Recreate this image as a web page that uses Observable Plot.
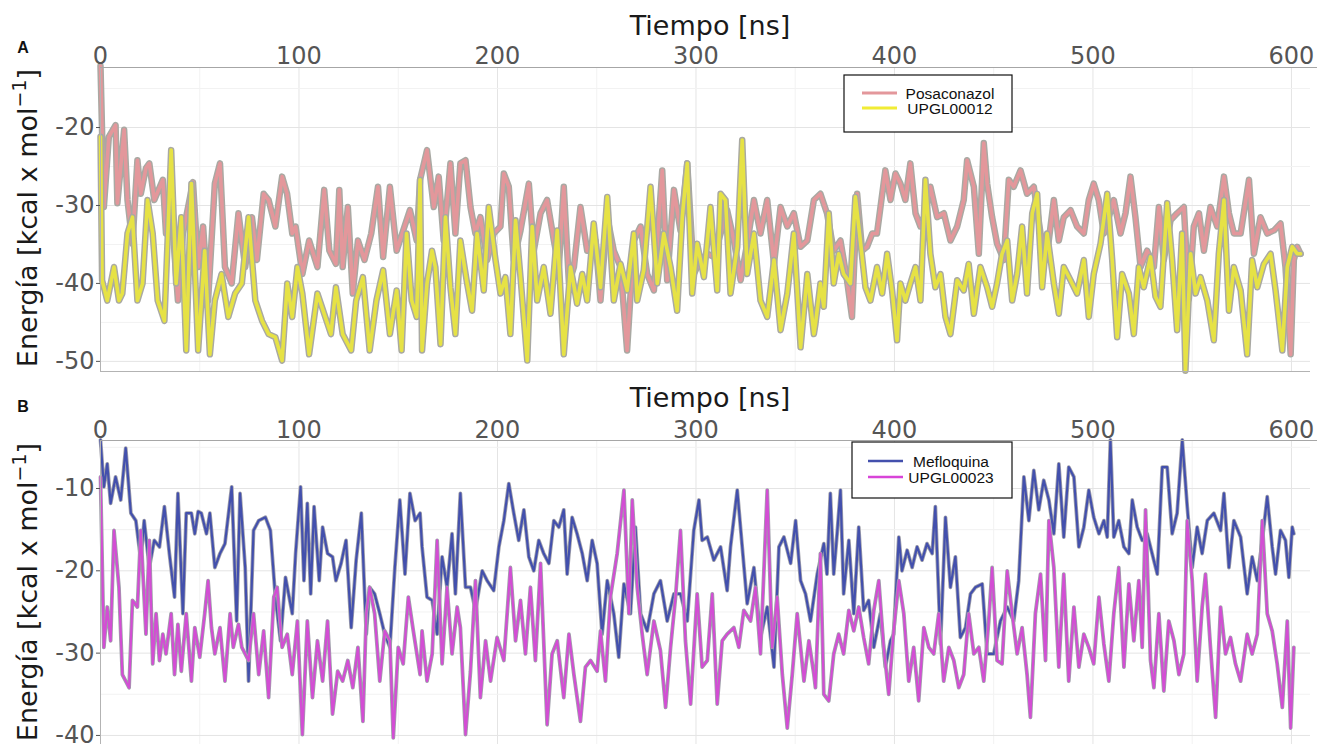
<!DOCTYPE html>
<html><head><meta charset="utf-8">
<script src="https://cdn.jsdelivr.net/npm/d3@7"></script>
<script src="https://cdn.jsdelivr.net/npm/@observablehq/plot@0.6"></script>
<style>
body{margin:0;background:#fff;}
#chart{width:1317px;height:744px;position:relative;overflow:hidden;background:#fff;}
#chart svg{display:block;}
</style></head><body><div id="chart"></div>
<script>
// ---------- data (time [ns], energy [kcal/mol]) ----------
const xTicks = [0, 100, 200, 300, 400, 500, 600];
const xMinor = [50, 150, 250, 350, 450, 550];
const yTicksA = [-50, -40, -30, -20];
const yMinorA = [-45, -35, -25, -15];
const yTicksB = [-40, -30, -20, -10];
const yMinorB = [-35, -25, -15, -5];
const namesA = ["Posaconazol", "UPGL00012"];
const namesB = ["Mefloquina", "UPGL00023"];

const posaconazol = [[0,-12.1],[1.7,-30.2],[4.2,-21.2],[7.6,-19.7],[8.5,-29.7],[11.9,-20.3],[13.6,-29.3],[16.1,-34.9],[18.6,-24.2],[20.3,-28.5],[22.9,-25.2],[24.6,-24.6],[27.1,-29.3],[31.4,-26.7],[33,-33.6],[35.6,-30.2],[39,-42.2],[41.5,-33.6],[46.6,-27],[49.2,-37.9],[51.7,-32.7],[54.2,-42.2],[57.6,-27.2],[60.2,-24.6],[62.7,-37.9],[66.1,-40],[69.5,-31],[72.9,-37.9],[76.3,-31.5],[78.8,-37],[82.2,-28.5],[84.7,-29.3],[88.1,-32.7],[91.5,-26.3],[94,-28.5],[96.6,-33.6],[98.3,-32.7],[101.7,-38.8],[105.1,-34.5],[109.3,-37.9],[112.7,-28],[115.3,-35.8],[118.6,-37.5],[120.3,-28],[122,-37.9],[124.6,-30.2],[127.1,-41.3],[129.7,-34.5],[133,-37],[136.4,-33.6],[139.8,-27.6],[142.4,-36.6],[145.8,-27.6],[149.2,-35.8],[152.5,-33.2],[155.9,-30.6],[159.3,-34.5],[161,-26.7],
[164.5,-22.9],[167.9,-30.2],[170.4,-26.3],[172.9,-34.5],[176.3,-24.6],[178.8,-33.6],[181.3,-24.6],[183.9,-24.2],[186.4,-30.2],[188.9,-33.6],[191.4,-31.5],[194.8,-37],[198.1,-33.6],[201.5,-32.7],[203.2,-25.9],[205.7,-27.6],[208.2,-37],[211.6,-33.2],[215.8,-27.2],[218.3,-35.8],[221.7,-31],[225,-29.3],[228.4,-34.5],[230.9,-37.9],[233.4,-27.6],[236,-40],[238.5,-37.9],[241.8,-30.2],[245.2,-35.8],[249.4,-34.5],[251.9,-42.2],[255.3,-31.5],[258.6,-35.8],[262,-37.9],[265.3,-48.6],[268.7,-34.5],[272.1,-32.7],[275.4,-38.8],[278.8,-40.9],[283,-25.5],[285.5,-39.6],[288.9,-28],[292.2,-33.2],[295.6,-24.6],[298.9,-38.8],[302.3,-37],[305.7,-36.2],[309,-36.6],[312.4,-33.6],[315.7,-30.6],[319.1,-34.5],[322.5,-39.6],[325.8,-34.9],[329.2,-29.3],[332.5,-33.6],[335.9,-29.3],[339.3,-37.5],[342.6,-30.2],[346,-32.7],[349.3,-31],[352.7,-35.3],[356.1,-34.5],[359.4,-29.3],
[362.7,-28.5],[366,-31],[369.4,-35.8],[372.8,-34.5],[376.1,-39.6],[378.6,-44.3],[381.2,-28.5],[383.7,-35.8],[386.2,-35.3],[388.8,-33.6],[391.2,-33.6],[395.4,-25.5],[398,-29.3],[400.5,-25.9],[403,-27.2],[405.5,-29.3],[408,-24.6],[410.6,-31],[413.1,-32.7],[415.6,-31],[418.1,-27.6],[421.5,-31.5],[424.9,-31],[428.2,-34.5],[431.6,-32.7],[434.9,-29.3],[436.6,-24.2],[440,-27.6],[442.5,-36.2],[445,-22],[446.7,-27.2],[449.2,-31.5],[451.7,-34.9],[455.1,-37],[457.6,-26.7],[460.1,-27.6],[463.5,-25.5],[466.8,-28.5],[470.2,-27.6],[473.6,-33.6],[476.9,-36.2],[480.3,-29.3],[482.8,-34.5],[485.3,-31.5],[488.7,-30.6],[492,-32.7],[495.4,-33.6],[497.9,-29.3],[500.4,-27.2],[502.9,-29.3],[505.5,-33.6],[508,-31.5],[510.5,-29.3],[513.9,-33.6],[516.4,-31],[518.9,-26.3],[521.4,-31.5],[524,-37.9],[527.3,-35.8],[530.7,-37.9],[533.2,-30.2],[535.7,-37],[539.1,-31.9],[542.4,-31],[545.8,-30.2],[548.3,-42],[550.8,-32.7],[553.4,-31],[555.9,-35.8],[559.2,-30.2],[562.6,-32.7],[566,-26.3],[568.5,-31],[571,-33.6],[574.4,-33.6],[578.6,-26.7],[581.1,-36.2],[584.4,-31.5],[587.8,-33.6],[591.2,-33.2],[594.5,-32.3],[597,-37.9],[599.6,-49.1],[601.2,-37],[602.9,-35.3],[604.6,-36.2]];

const upgl00012 = [[0,-21.2],[0.8,-39.6],[3.4,-42.2],[6.8,-37.9],[9.3,-42.2],[11,-41.3],[13.6,-33.6],[16.1,-31.5],[18.6,-42.2],[21.2,-40],[23.7,-29.3],[26.3,-33.6],[28.8,-42.2],[32.2,-44.8],[35.6,-22.9],[38.1,-40],[40.7,-31.5],[43.2,-48.6],[45.8,-27.2],[49.2,-48.6],[52.5,-35.8],[55.1,-49.1],[57.6,-42.2],[61,-38.8],[64.4,-44.3],[67.8,-41.3],[71.2,-40],[74.6,-31.5],[78,-42.2],[81.4,-44.8],[84.7,-46.5],[88.1,-46.9],[91.5,-49.9],[94.1,-40],[96.6,-44.3],[99.2,-37.9],[101.7,-41.3],[105.1,-49.1],[109.3,-41.3],[112.7,-43.9],[116.1,-46.5],[118.6,-40.5],[122,-46.5],[126.3,-48.6],[128.8,-42.2],[132.2,-39.2],[135.6,-48.6],[139,-42.2],[142.4,-38.3],[145.8,-46.5],[149.2,-40.9],[151.7,-48.6],[154.2,-33.6],[156.8,-42.2],[159.3,-44.3],[161,-26.7],
[162,-48.6],[164.5,-40],[167,-35.8],[168.7,-37.9],[171.3,-47.8],[173.8,-31.5],[176.3,-40.5],[178.8,-46.5],[181.3,-34.5],[184.7,-40],[187.2,-43.5],[189.7,-33.6],[193.1,-40.9],[195.6,-30.2],[199,-37],[201.5,-41.3],[204,-39.2],[206.5,-46.5],[209.1,-31.9],[211.6,-39.2],[215,-49.9],[217.5,-32.7],[220,-42.2],[223.3,-37.9],[226.7,-43.9],[230.1,-33.2],[233.4,-49.1],[236.8,-37.9],[240.1,-42.6],[242.7,-38.8],[245.2,-42.2],[248.5,-32.3],[251.9,-40.5],[255.3,-28.9],[258.6,-42.2],[262,-37.5],[265.3,-40.9],[268.7,-33.6],[270.4,-42.2],[273.7,-38.3],[277.1,-27.6],[280.5,-40],[283.8,-33.6],[287.2,-37.9],[290.5,-43.5],[293.1,-31.5],[295.6,-24.6],[298.1,-41.3],[300.6,-34.9],[304,-39.2],[307.3,-30.2],[310.7,-40.9],[312.4,-28.5],[314.9,-29.3],[317.4,-41.3],[320.8,-35.3],[323.3,-21.6],[325.8,-38.8],[329.2,-33.6],[332.5,-42.2],[335.9,-44.3],[339.3,-37],[342.6,-46],[346,-41.3],[349.3,-33.6],[352.7,-48.2],[356.1,-38.8],[359.4,-46.5],
[360.2,-45.2],[362.7,-40],[364.4,-43],[366.9,-31],[369.4,-40],[371.9,-36.2],[374.4,-38.8],[377.8,-40],[380.3,-28.9],[382.8,-34.5],[385.4,-40.5],[387.9,-42.2],[391.2,-37.9],[393.8,-41.3],[396.3,-36.2],[398.8,-40.9],[401.3,-47.3],[403,-40],[405.5,-42.2],[408,-40],[410.6,-37.9],[413.1,-42.2],[415.6,-26.7],[418.1,-36.2],[420.6,-40.5],[423.2,-38.8],[425.7,-44.3],[428.2,-46.5],[431.6,-39.6],[434.9,-40.9],[437.4,-37.5],[440,-43.9],[443.3,-37.9],[446.7,-40.5],[449.2,-43],[451.7,-40],[454.2,-36.2],[456.8,-34.5],[459.3,-42.2],[461.8,-38.8],[464.3,-32.7],[466.8,-41.3],[469.4,-31],[471.9,-28.5],[474.4,-40.5],[476.9,-33.6],[480.3,-40],[482.8,-43.9],[485.3,-37.9],[488.7,-39.6],[492,-41.3],[495.4,-37],[497.9,-44.3],[500.4,-38.8],[503.8,-34.9],[507.2,-28.5],[509.7,-37],[512.2,-46.9],[514.7,-38.8],[518.1,-41.3],[520.6,-46.5],[523.1,-37.9],[525.6,-40.5],[529,-36.6],[531.5,-41.7],[534,-43],[537.4,-29.7],[539.9,-37],[542.4,-46],[544.9,-33.6],[546.6,-51.2],[549.2,-36.2],[551.7,-41.3],[554.2,-39.2],[557.6,-42.2],[560.9,-47.3],[563.4,-36.2],[566,-29.3],[568.5,-43.5],[571,-37.9],[574.4,-40.9],[577.7,-49.1],[580.2,-37],[582.8,-40.5],[586.1,-37.5],[589.5,-36.2],[592,-40.9],[595.4,-48.6],[597.9,-37.9],[600.4,-35.3],[602.9,-36.2],[604.6,-36.2]];

const mefloquina = [[0,-4.1],[1.7,-9.8],[3.4,-7],[5.1,-11.8],[7.6,-8.6],[10.2,-11.4],[12.7,-5.1],[15.3,-13],[17.8,-13.9],[20.3,-18.7],[22,-13.9],[24.6,-19.6],[27.1,-16.3],[29.7,-17.1],[32.2,-12.2],[34.7,-17.9],[37.3,-23.2],[39,-10.6],[41.5,-25.2],[43.2,-13],[45.8,-13],[47.5,-15.5],[49.2,-12.8],[50.8,-13],[53.4,-15.5],[55.1,-13],[57.6,-19.6],[60.2,-17.9],[62.7,-16.7],[66.1,-9.8],[68.6,-26.1],[70.3,-10.6],[72.9,-19.6],[74.6,-33.4],[77.1,-15.1],[79.7,-13.9],[83.1,-13.5],[85.6,-15.1],[88.1,-23.2],[90.7,-28.5],[93.2,-20.8],[96.6,-25.2],[98.3,-17.9],[100.8,-9.8],[102.5,-21.2],[104.2,-11.8],[105.9,-22.8],[107.6,-12.2],[110.2,-21.2],[111.9,-14.7],[114.4,-17.9],[116.9,-18.3],[118.6,-21.2],[121.2,-19.1],[123.7,-16.3],[126.3,-26.9],[128.8,-18.7],[131.4,-13],[133.9,-27.7],[135.6,-22],[138.1,-22.8],[140.7,-25.2],[143.2,-27.7],[145.8,-29.3],[148.3,-19.6],[150.8,-11.4],[153.4,-20.4],[155.9,-10.6],[158.5,-13.9],[161,-13],
[162,-17.1],[164.5,-23.2],[167.1,-23.6],[169.6,-27.7],[172.1,-18.3],[174.6,-22],[177.1,-15.5],[178.8,-22.8],[181.3,-10.6],[183.9,-22],[186.4,-22],[188.9,-24.8],[192.3,-20],[194.8,-21.2],[198.1,-22.4],[200.7,-17.1],[203.2,-13.9],[205.7,-9.4],[208.2,-13],[210.7,-16.3],[213.3,-12.6],[215.8,-18.3],[218.3,-20],[220.8,-16.3],[223.3,-17.9],[225.9,-19.1],[228.4,-13.9],[230.9,-14.7],[233.4,-12.6],[235.1,-20.4],[237.6,-13.5],[240.1,-15.5],[242.7,-17.9],[245.2,-21.2],[247.7,-16.3],[250.2,-19.1],[252.7,-27.7],[255.3,-21.2],[258.6,-25.2],[261.1,-30.5],[263.7,-21.6],[267,-25.2],[269.5,-14.7],[272.1,-25.2],[275.4,-27.3],[278.8,-22.8],[282.1,-21.2],[285.5,-26.1],[288.9,-22.8],[292.2,-22.8],[295.6,-26.1],[298.9,-15.1],[301.5,-11.4],[303.1,-16.3],[305.7,-15.9],[309,-18.7],[312.4,-17.1],[315.7,-22.4],[317.4,-17.1],[320.8,-10.2],[323.3,-17.1],[325.8,-24],[329.2,-19.6],[332.5,-28.1],[335.9,-24.4],[339.3,-31.7],[341.8,-17.1],[344.3,-15.9],[347.7,-19.1],[350.2,-13.9],[352.7,-21.2],[355.2,-22.8],[357.7,-26.1],[361.1,-20.4],
[364.4,-16.7],[366,-20.4],[367.7,-10.6],[369.4,-20.4],[371.1,-15.5],[372.8,-10.2],[374.4,-22.8],[377,-16.3],[379.5,-25.2],[382,-14.7],[384.5,-24.8],[387,-23.6],[389.6,-29.3],[392.9,-25.2],[395.4,-31.7],[398,-28.5],[399.6,-27.7],[402.2,-15.9],[403.8,-20],[406.4,-17.5],[408.9,-19.6],[411.4,-17.1],[413.9,-18.7],[416.4,-16.7],[419,-17.9],[420.6,-12.2],[423.2,-28.9],[425.7,-13.5],[428.2,-22],[430.7,-18.3],[433.2,-28.1],[435.8,-26.9],[438.3,-22.8],[440.8,-22],[444.2,-21.6],[446.7,-30.1],[450,-30.1],[453.4,-26.1],[456.8,-24.4],[460.1,-26.1],[462.6,-21.2],[465.2,-8.6],[467.7,-13.9],[470.2,-7.8],[472.7,-12.6],[475.2,-9],[477.8,-11.4],[480.3,-15.5],[482.8,-7],[485.3,-15.9],[487.8,-7.4],[490.4,-8.6],[492.9,-17.1],[495.4,-14.7],[497.9,-10.2],[500.4,-13.5],[503,-15.5],[505.5,-13.9],[507.2,-15.9],[508.8,-4.1],[510.5,-15.9],[513,-13.9],[515.6,-17.1],[518.1,-17.9],[519.8,-11.4],[522.3,-14.7],[524.8,-16.3],[527.3,-15.5],[529.8,-17.9],[532.4,-20.4],[534.9,-7.4],[537.4,-7.4],[539.9,-15.5],[542.4,-13],[545,-4.1],[547.5,-12.2],[550,-19.6],[552.5,-14.7],[555,-17.9],[557.6,-13.9],[560.9,-13],[564.3,-15.1],[566,-10.6],[568.5,-19.6],[571,-13.9],[574.4,-15.9],[577.7,-22.8],[580.2,-18.3],[582.8,-21.2],[585.3,-16.3],[587.8,-11],[590.3,-17.1],[592,-20.4],[594.5,-15.1],[597,-16.3],[598.7,-20.8],[600.4,-14.7],[601.2,-15.5]];

const upgl00023 = [[0,-8.6],[1.7,-29.3],[3.4,-24.4],[5.1,-28.5],[6.8,-15.1],[9.3,-22],[11,-32.6],[12.7,-33.4],[14.4,-34.2],[16.1,-23.6],[18.6,-24.4],[20.3,-15.1],[22.9,-27.7],[24.6,-16.3],[26.3,-31.3],[28,-25.2],[29.7,-30.9],[31.4,-27.7],[33,-30.1],[35.6,-25.2],[37.3,-32.6],[39,-26.5],[40.7,-32.2],[43.2,-25.2],[45.8,-33.4],[47.5,-26.9],[50,-30.5],[52.5,-25.2],[54.2,-21.2],[55.9,-26.9],[57.6,-30.1],[60.2,-26.9],[62.7,-33.4],[65.3,-25.2],[66.9,-29.3],[69.5,-26.5],[71.2,-29.3],[74.6,-30.9],[77.1,-25.2],[79.7,-32.6],[82.2,-27.3],[84.7,-35.4],[87.3,-23.2],[89,-22],[91.5,-29.3],[94.1,-27.7],[96.6,-32.6],[99.2,-26.1],[101.7,-39.9],[104.2,-26.1],[106.8,-35.4],[109.3,-28.5],[111.9,-33.4],[114.4,-26.1],[116.9,-37.4],[119.5,-32.2],[122,-33.4],[124.6,-30.9],[127.1,-34.2],[129.7,-29.3],[132.2,-38.3],[133.9,-25.2],[135.6,-22],[138.1,-25.2],[140.7,-33.4],[143.2,-27.3],[145.8,-28.5],[147.5,-40.3],[150,-29.3],[152.5,-31.3],[155.1,-23.2],[157.6,-27.3],[161,-32.6],
[162,-27.3],[164.5,-33.4],[167.1,-30.1],[169.6,-16.3],[172.1,-31.3],[174.6,-22],[177.1,-30.1],[179.7,-24.4],[181.3,-26.9],[183.9,-39.9],[186.4,-32.2],[188.9,-21.2],[191.4,-35.4],[194,-28.5],[196.5,-33.4],[199.8,-28.1],[203.2,-30.9],[206.5,-19.6],[209.1,-28.5],[211.6,-23.6],[214.1,-30.1],[216.6,-22],[219.1,-30.9],[221.7,-19.1],[225,-38.7],[227.5,-30.1],[230.1,-28.5],[233.4,-35.4],[236,-27.7],[238.5,-32.6],[241.8,-38.3],[244.3,-31.7],[246.9,-30.9],[250.2,-32.2],[251.9,-27.3],[254.4,-33.4],[256.9,-23.2],[260.3,-17.9],[263.7,-10.2],[266.2,-25.2],[267.9,-11.4],[270.4,-22],[272.9,-27.7],[275.4,-32.6],[278.8,-26.1],[282.1,-29.7],[284.7,-36.6],[287.2,-29.3],[289.7,-23.2],[292.2,-15.1],[294.7,-28.5],[297.3,-36.2],[300.6,-22.8],[303.1,-31.7],[305.7,-30.9],[308.2,-22.8],[310.7,-36.2],[313.2,-28.5],[315.7,-27.7],[319.1,-26.9],[321.6,-29.3],[324.1,-24.8],[327.5,-26.1],[330,-22],[332.5,-30.1],[335.9,-10.2],[338.4,-29.3],[340.9,-23.2],[343.5,-32.6],[346,-39.1],[348.5,-32.6],[351,-25.2],[354.4,-33.4],[356.9,-28.5],[359.4,-32.6],
[360.2,-34.2],[362.7,-17.9],[364.4,-35],[366.9,-35.8],[369.4,-30.1],[371.9,-27.7],[374.4,-30.1],[377,-24.8],[379.5,-27.3],[382,-24.4],[384.5,-28.1],[387,-31.3],[389.6,-24.8],[392.1,-21.2],[394.6,-29.3],[397.1,-35],[399.6,-27.3],[402.2,-21.2],[404.7,-25.2],[407.2,-33.4],[409.7,-29.3],[412.2,-35.8],[414.8,-26.9],[417.3,-29.3],[419.8,-30.1],[422.3,-25.2],[424.8,-33.4],[427.4,-29.3],[429.9,-30.9],[432.4,-34.2],[434.9,-32.6],[437.4,-25.2],[440,-30.1],[442.5,-29.3],[445,-33.4],[447.5,-26.1],[449.2,-19.6],[451.7,-30.9],[454.2,-31.3],[456.8,-20],[459.3,-25.2],[461.8,-30.1],[464.3,-26.9],[466.8,-32.6],[468.5,-37.8],[471,-25.2],[473.6,-20.4],[476.1,-30.9],[477.8,-13.9],[480.3,-19.6],[482.8,-31.7],[485.3,-20.4],[487.8,-33.4],[490.4,-24.4],[492.9,-31.7],[495.4,-27.7],[497.9,-29.3],[500.4,-31.3],[503,-23.2],[505.5,-28.9],[508,-33.4],[510.5,-25.2],[513,-19.6],[515.6,-31.7],[518.1,-21.6],[520.6,-28.5],[523.1,-21.2],[524.8,-29.3],[526.5,-12.6],[529,-30.9],[530.7,-34.2],[533.2,-25.2],[535.7,-34.6],[538.2,-26.1],[540.8,-28.5],[543.3,-32.6],[545.8,-30.1],[547.5,-13.9],[550,-21.2],[552.5,-33.4],[555,-24.4],[556.7,-20.4],[559.2,-29.3],[561.8,-37.8],[564.3,-24.4],[566.8,-30.1],[569.3,-28.1],[571.8,-31.3],[574.4,-33.4],[577.7,-27.7],[580.2,-30.1],[582.8,-27.7],[585.3,-13.9],[587.8,-25.2],[590.3,-27.3],[592.8,-31.3],[595.4,-36.6],[597.9,-26.1],[599.6,-39.1],[601.2,-29.3]];

// ---------- drawing ----------
const toRows = arr => arr.map(([t, e]) => ({t, e}));
const W = 1317;
const FONT = "DejaVu Sans, Liberation Sans, sans-serif";
const hyphen = d => String(d);

function panel(cfg) {
  const lineMarks = [];
  cfg.series.forEach((s, i) => {
    lineMarks.push(Plot.line(toRows(s), {x: "t", y: "e", stroke: cfg.outline, strokeWidth: cfg.outerW, strokeLinejoin: "round", strokeLinecap: "round"}));
    lineMarks.push(Plot.line(toRows(s), {x: "t", y: "e", stroke: cfg.colors[i], strokeWidth: cfg.innerW, strokeOpacity: cfg.opac[i], strokeLinejoin: "round", strokeLinecap: "round"}));
  });
  const svg = Plot.plot({
    width: W, height: 372,
    marginTop: cfg.mt, marginBottom: cfg.mb, marginLeft: 100, marginRight: 7,
    x: {domain: [0, 609.6]},
    y: {domain: cfg.yDomain},
    style: {fontFamily: FONT, background: "transparent", overflow: "visible"},
    marks: [
      Plot.gridX({ticks: xMinor, stroke: "#f2f2f2", strokeOpacity: 1}),
      Plot.gridX({ticks: xTicks, stroke: "#e4e4e4", strokeOpacity: 1}),
      Plot.gridY({ticks: cfg.yMinor, stroke: "#f2f2f2", strokeOpacity: 1}),
      Plot.gridY({ticks: cfg.yTicks, stroke: "#e4e4e4", strokeOpacity: 1}),
      ...lineMarks,
      Plot.ruleX([0], {stroke: "#b3b3b3"}),
      Plot.ruleY([cfg.yDomain[0]], {stroke: "#b3b3b3"}),
      Plot.ruleY([cfg.yDomain[1]], {stroke: "#a6a6a6", insetRight: -7}),
      Plot.axisX({anchor: "top", ticks: xTicks, tickSize: 0, tickPadding: cfg.xPad, fontSize: 24, color: "#555", label: null}),
      Plot.axisY({ticks: cfg.yTicks, tickFormat: hyphen, tickSize: 4, tickPadding: 2, fontSize: 24, color: "#555", label: null})
    ]
  });
  const s = d3.select(svg);
  // x title
  s.append("text").attr("x", 710).attr("y", cfg.titleY).attr("text-anchor", "middle")
    .attr("font-size", 27).attr("fill", "#1a1a1a").attr("font-family", FONT).text("Tiempo [ns]");
  // y title
  const yt = s.append("text").attr("transform", `translate(37,${cfg.yTitleY}) rotate(-90)`)
    .attr("text-anchor", "middle").attr("font-size", 27).attr("fill", "#1a1a1a").attr("font-family", FONT);
  yt.append("tspan").text("Energía [kcal x mol");
  yt.append("tspan").attr("dy", -11).attr("font-size", 19).text("−1");
  yt.append("tspan").attr("dy", 11).text("]");
  // panel letter
  s.append("text").attr("x", 23).attr("y", cfg.letterY).attr("font-size", 16).attr("font-weight", "bold")
    .attr("font-family", "Liberation Sans, Arial, sans-serif").attr("fill", "#111").text(cfg.letter);
  // legend
  const L = cfg.legend;
  s.append("rect").attr("x", L.x).attr("y", L.y).attr("width", L.w).attr("height", L.h)
    .attr("fill", "#fff").attr("stroke", "#111").attr("stroke-width", 1.2);
  cfg.names.forEach((n, i) => {
    const yy = L.y + L.first + i * L.gap;
    s.append("line").attr("x1", L.sx1).attr("x2", L.sx2).attr("y1", yy).attr("y2", yy)
      .attr("stroke", cfg.colors[i]).attr("stroke-width", L.sw);
    s.append("text").attr("x", L.tx).attr("y", yy + 5.5).attr("text-anchor", "middle")
      .attr("font-size", 15.5).attr("font-family", "Liberation Sans, Arial, sans-serif").attr("fill", "#111").text(n);
  });
  return svg;
}

const root = document.getElementById("chart");
root.appendChild(panel({
  series: [posaconazol, upgl00012], names: namesA,
  colors: ["#e3979b", "#f1ec35"], opac: [1, 0.85], outline: "#a9a9a3", outerW: 6.5, innerW: 3.6,
  mt: 67, mb: 1, yDomain: [-51.3, -12.3], yTicks: yTicksA, yMinor: yMinorA, xPad: 4,
  titleY: 35, yTitleY: 218, letter: "A", letterY: 53,
  legend: {x: 844, y: 75, w: 168, h: 57, first: 18, gap: 15, sx1: 862, sx2: 897, tx: 950, sw: 3}
}));
root.appendChild(panel({
  series: [mefloquina, upgl00023], names: namesB,
  colors: ["#4350ad", "#d844d8"], opac: [1, 0.9], outline: "#a0a0ab", outerW: 3.8, innerW: 2.2,
  mt: 68, mb: 0, yDomain: [-41.1, -4.17], yTicks: yTicksB, yMinor: yMinorB, xPad: 3,
  titleY: 35, yTitleY: 220, letter: "B", letterY: 40,
  legend: {x: 852, y: 70, w: 160, h: 56, first: 19, gap: 16, sx1: 868, sx2: 903, tx: 951, sw: 2.5}
}));
</script></body></html>
